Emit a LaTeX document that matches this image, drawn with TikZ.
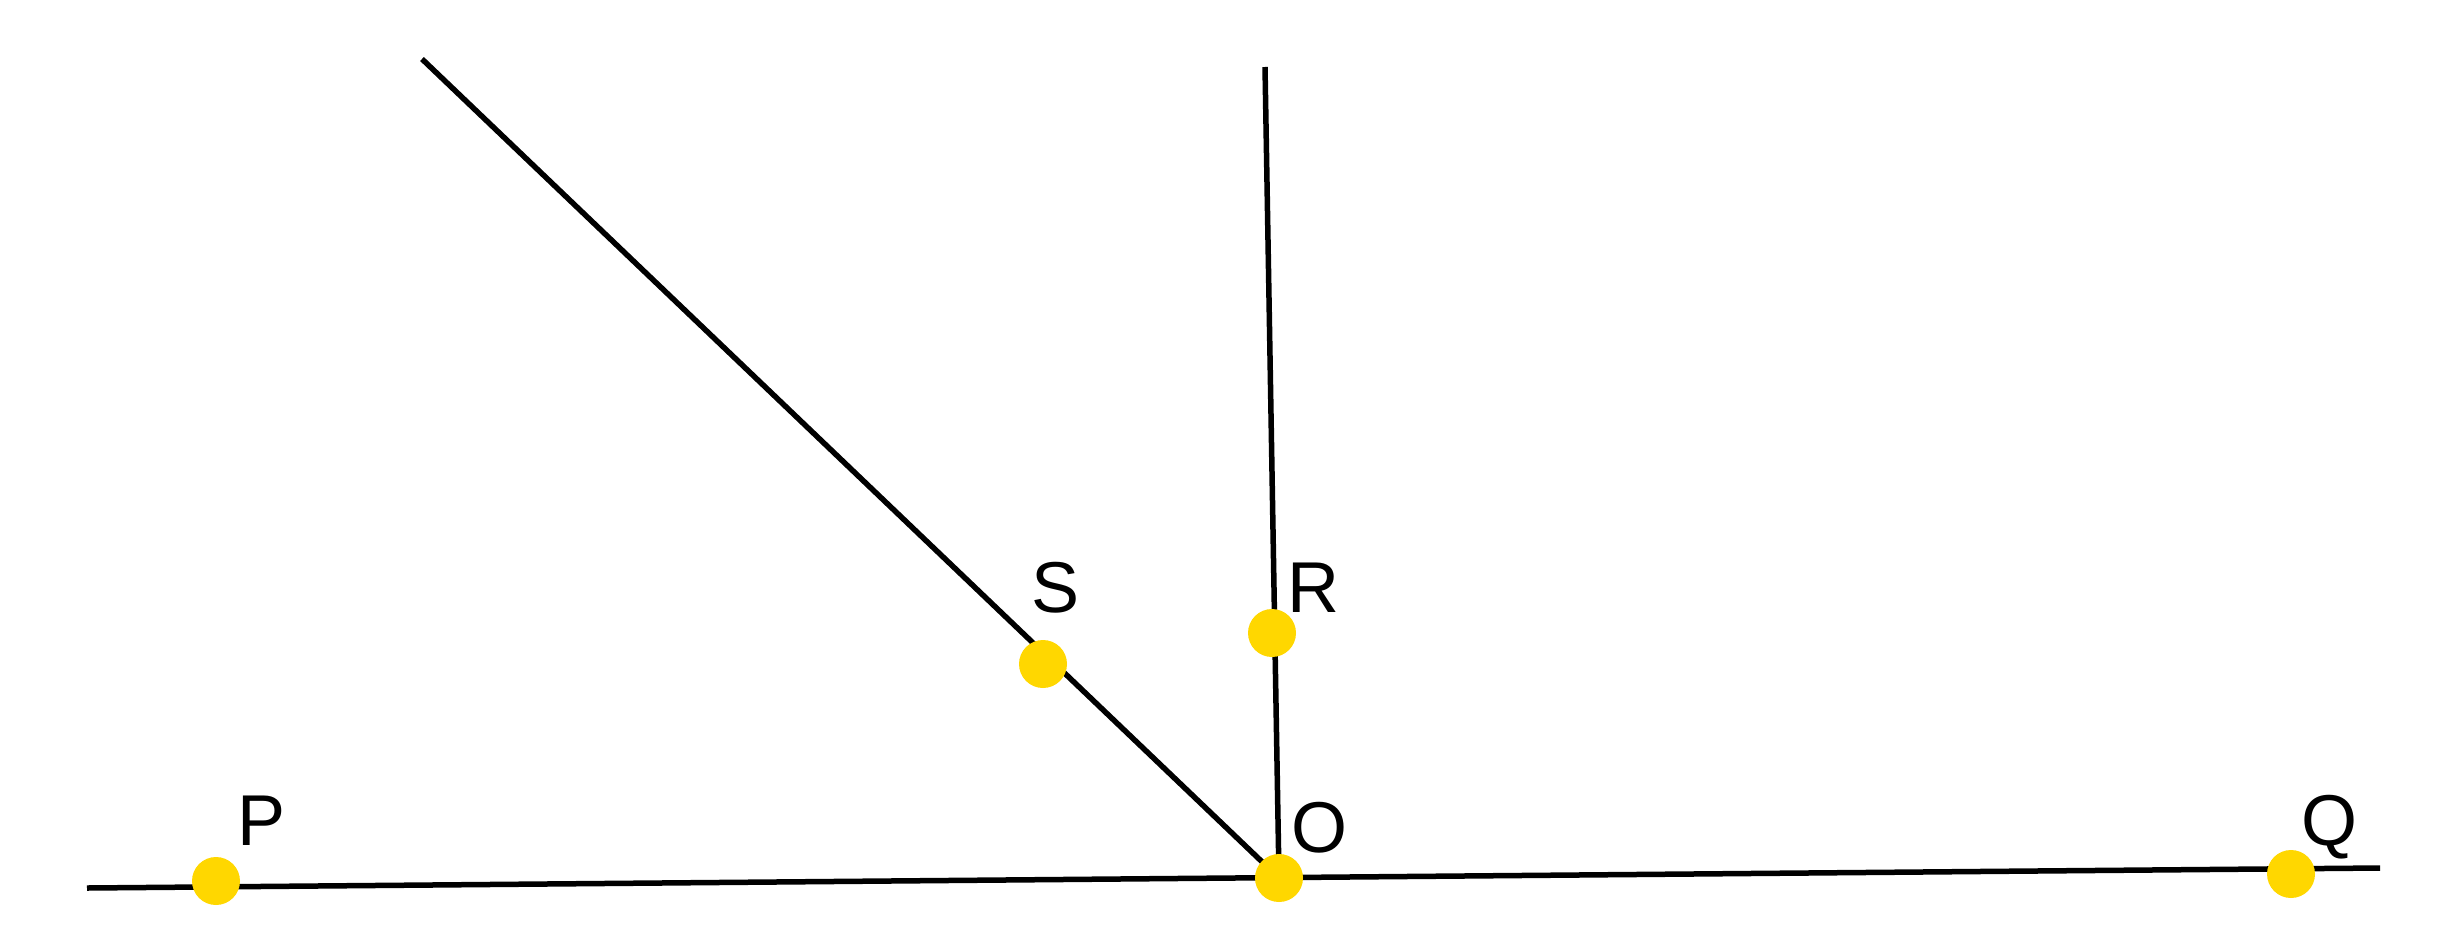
\documentclass[tikz,border=0pt]{standalone}
\usepackage{fontspec}
\setmainfont{Liberation Sans}
\definecolor{dotgold}{HTML}{FFD700}
\begin{document}
\begin{tikzpicture}[x=1pt,y=-1pt,
  ray/.style={line width=5.5pt,black},
  pt/.style={circle,fill=dotgold,inner sep=0pt,minimum size=48pt},
  lbl/.style={inner sep=0pt,font=\fontsize{72}{80}\selectfont}]
\useasboundingbox (0,0) rectangle (2443,951);
% end points of the rays
\coordinate (L) at (87,888);
\coordinate (Rt) at (2380,868);
\coordinate (Stop) at (422,59);
\coordinate (Rtop) at (1265,67);
\coordinate (Oc) at (1279,878);
% rays
\draw[ray] (L) -- (Rt);
\draw[ray] (Oc) -- (Stop);
\draw[ray] (Oc) -- (Rtop);
% points
\node[pt] (P) at (216,881) {};
\node[pt] (Q) at (2291,874) {};
\node[pt] (O) at (Oc) {};
\node[pt] (S) at (1043,664) {};
\node[pt] (R) at (1272,633) {};
% labels
\node[lbl,anchor=base west] (lP) at (237,845) {P};
\node[lbl,anchor=base west] (lQ) at (2301,845) {Q};
\node[lbl,anchor=base west] (lO) at (1291,852) {O};
\node[lbl,anchor=base west] (lS) at (1031,612) {S};
\node[lbl,anchor=base west] (lR) at (1287,612) {R};
\end{tikzpicture}
\end{document}
